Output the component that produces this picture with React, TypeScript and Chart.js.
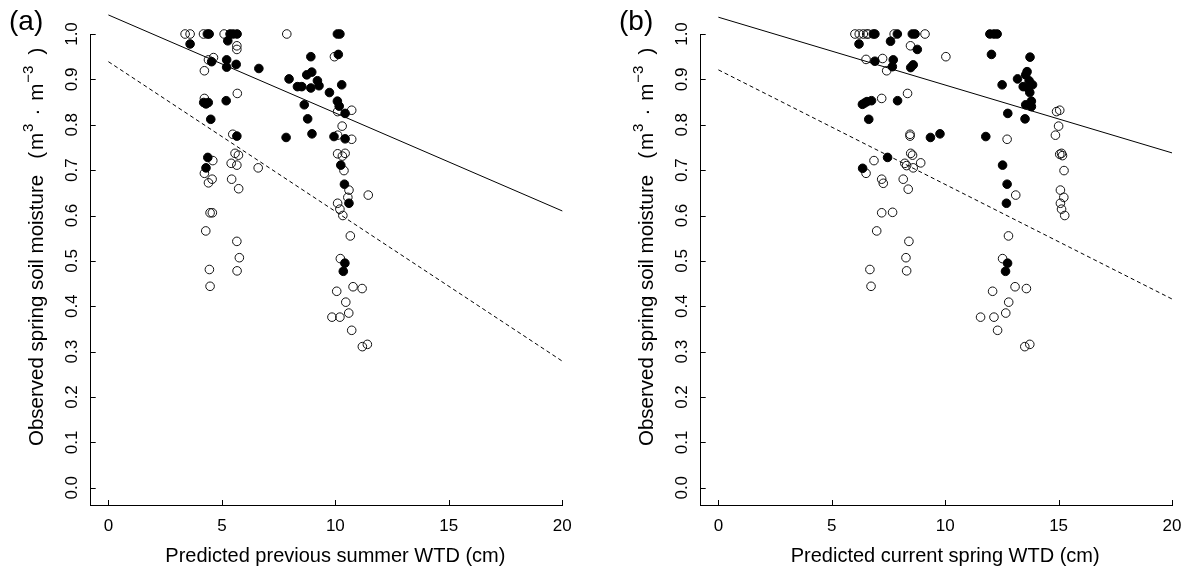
import React, { useEffect, useRef } from "react";
import { Chart, registerables } from "chart.js";

Chart.register(...registerables);

const FONT = "'Liberation Sans', Arial, sans-serif";

// Tick values
const xTickValues = [0, 5, 10, 15, 20];
const yTickValues = [0, 0.1, 0.2, 0.3, 0.4, 0.5, 0.6, 0.7, 0.8, 0.9, 1.0];

// Axis titles
const xTitleA = "Predicted previous summer WTD (cm)";
const xTitleB = "Predicted current spring WTD (cm)";
const yTitleMain = "Observed spring soil moisture";

// Regression lines (x endpoints and y at those endpoints)
const lineX = [0, 20];
const aSolidY = [1.042, 0.61];
const aDashedY = [0.939, 0.279];
const bSolidY = [1.037, 0.738];
const bDashedY = [0.921, 0.416];

// Panel (a): filled points
const aFilledX = [4.36, 4.44, 5.36, 5.5, 5.67, 10.09, 10.2, 3.6, 5.26, 4.55, 5.21, 5.21, 5.63, 6.63, 7.96, 8.33, 4.2, 4.3, 4.4, 5.19, 4.51, 5.66, 7.83, 4.38, 4.3, 10.13, 8.92, 8.96, 8.74, 9.21, 9.28, 8.52, 8.92, 10.28, 9.74, 10.09, 8.63, 10.17, 10.43, 8.78, 8.97, 9.94, 10.43, 10.24, 10.4, 10.6, 10.42, 10.35];
const aFilledY = [1.0, 1.0, 1.0, 1.0, 1.0, 1.0, 1.0, 0.978, 0.985, 0.939, 0.943, 0.927, 0.933, 0.924, 0.901, 0.884, 0.849, 0.846, 0.849, 0.853, 0.812, 0.775, 0.772, 0.728, 0.705, 0.955, 0.95, 0.916, 0.91, 0.897, 0.886, 0.884, 0.881, 0.888, 0.871, 0.852, 0.844, 0.841, 0.825, 0.813, 0.78, 0.774, 0.769, 0.711, 0.669, 0.627, 0.495, 0.477];

// Panel (a): open points
const aOpenX = [3.38, 3.6, 4.19, 5.1, 7.86, 5.66, 5.66, 4.63, 4.41, 4.23, 5.68, 4.23, 5.48, 5.58, 5.73, 4.6, 5.41, 5.66, 6.6, 4.23, 4.57, 4.41, 5.43, 5.74, 4.48, 4.58, 4.29, 5.66, 5.77, 4.45, 5.67, 4.48, 9.96, 10.1, 10.72, 10.3, 10.1, 10.72, 10.1, 10.43, 10.31, 10.38, 10.6, 11.45, 10.55, 10.1, 10.2, 10.33, 10.66, 10.22, 10.78, 11.18, 10.06, 10.46, 10.59, 9.85, 10.2, 10.72, 11.41, 11.19];
const aOpenY = [1.0, 1.0, 1.0, 1.0, 1.0, 0.974, 0.966, 0.948, 0.943, 0.919, 0.869, 0.858, 0.779, 0.737, 0.733, 0.721, 0.715, 0.711, 0.705, 0.693, 0.68, 0.672, 0.68, 0.659, 0.606, 0.606, 0.566, 0.543, 0.507, 0.481, 0.478, 0.444, 0.95, 0.829, 0.832, 0.797, 0.777, 0.768, 0.736, 0.737, 0.731, 0.699, 0.656, 0.645, 0.64, 0.627, 0.614, 0.6, 0.555, 0.505, 0.443, 0.439, 0.433, 0.409, 0.385, 0.376, 0.376, 0.347, 0.316, 0.311];

// Panel (b): filled points
const bFilledX = [6.83, 6.9, 7.89, 8.55, 8.67, 11.97, 12.15, 12.29, 6.2, 7.59, 8.77, 6.9, 7.71, 7.67, 8.48, 8.59, 6.35, 6.45, 6.55, 6.75, 7.9, 6.63, 9.35, 7.46, 6.36, 12.04, 13.74, 13.61, 13.55, 13.19, 13.7, 13.85, 13.44, 13.66, 13.73, 12.51, 13.8, 13.55, 13.8, 12.76, 13.52, 9.77, 11.79, 12.53, 12.73, 12.7, 12.75, 12.66];
const bFilledY = [1.0, 1.0, 1.0, 1.0, 1.0, 1.0, 1.0, 1.0, 0.978, 0.984, 0.966, 0.94, 0.943, 0.928, 0.926, 0.932, 0.845, 0.848, 0.851, 0.853, 0.853, 0.812, 0.772, 0.728, 0.704, 0.955, 0.949, 0.917, 0.91, 0.901, 0.897, 0.888, 0.884, 0.88, 0.871, 0.888, 0.852, 0.844, 0.84, 0.825, 0.813, 0.78, 0.774, 0.711, 0.669, 0.627, 0.495, 0.477];

// Panel (b): open points
const bOpenX = [6.02, 6.21, 6.39, 6.54, 6.61, 7.75, 9.11, 8.47, 6.51, 7.24, 7.42, 8.34, 7.2, 8.45, 8.45, 8.48, 8.56, 6.86, 8.22, 8.3, 8.59, 8.92, 6.51, 7.2, 7.27, 8.15, 8.37, 7.2, 7.68, 6.98, 8.4, 8.27, 6.68, 8.3, 6.73, 10.03, 14.91, 15.05, 15.0, 14.86, 12.73, 15.05, 15.17, 15.13, 15.24, 13.11, 15.08, 15.23, 15.08, 15.13, 15.27, 12.79, 12.53, 13.08, 13.58, 12.09, 12.8, 12.67, 11.56, 12.15, 12.31, 13.51, 13.73];
const bOpenY = [1.0, 1.0, 1.0, 1.0, 1.0, 1.0, 1.0, 0.974, 0.944, 0.946, 0.919, 0.869, 0.858, 0.779, 0.775, 0.737, 0.733, 0.721, 0.715, 0.71, 0.705, 0.716, 0.693, 0.68, 0.671, 0.68, 0.658, 0.606, 0.607, 0.566, 0.543, 0.507, 0.481, 0.478, 0.444, 0.95, 0.829, 0.832, 0.797, 0.777, 0.768, 0.735, 0.732, 0.737, 0.699, 0.645, 0.656, 0.64, 0.627, 0.614, 0.6, 0.555, 0.505, 0.443, 0.439, 0.433, 0.409, 0.385, 0.376, 0.376, 0.347, 0.311, 0.316];

const toPts = (xs: number[], ys: number[]) => xs.map((x, i) => ({ x, y: ys[i] }));

type PanelSpec = {
  label: string;
  xTitle: string;
  filledX: number[];
  filledY: number[];
  openX: number[];
  openY: number[];
  solidY: number[];
  dashedY: number[];
};

const decorPlugin = (spec: PanelSpec) => ({
  id: "decor",
  afterDraw(chart: any) {
    const ctx = chart.ctx as CanvasRenderingContext2D;
    const xs = chart.scales.x;
    const ys = chart.scales.y;
    const area = chart.chartArea;
    ctx.save();
    ctx.strokeStyle = "#000";
    ctx.lineWidth = 1;
    // inward tick marks
    ctx.beginPath();
    xTickValues.forEach((v) => {
      const px = Math.round(xs.getPixelForValue(v)) + 0.5;
      ctx.moveTo(px, area.bottom);
      ctx.lineTo(px, area.bottom - 5);
    });
    yTickValues.forEach((v) => {
      const py = Math.round(ys.getPixelForValue(v)) + 0.5;
      ctx.moveTo(area.left, py);
      ctx.lineTo(area.left + 5, py);
    });
    ctx.stroke();

    ctx.fillStyle = "#000";
    // panel label
    ctx.font = `28px ${FONT}`;
    ctx.textAlign = "left";
    ctx.textBaseline = "middle";
    ctx.fillText(spec.label, 9, 22);

    // x title
    ctx.font = `20px ${FONT}`;
    ctx.textAlign = "center";
    ctx.textBaseline = "alphabetic";
    ctx.fillText(spec.xTitle, xs.getPixelForValue(10), 562);

    // y title (rotated, with superscripts)
    ctx.save();
    ctx.translate(37, 446);
    ctx.rotate(-Math.PI / 2);
    ctx.textAlign = "left";
    ctx.textBaseline = "middle";
    const big = `20.5px ${FONT}`;
    const small = `15px ${FONT}`;
    let u = 0;
    const put = (t: string, font: string, dy: number, after = 0) => {
      ctx.font = font;
      ctx.fillText(t, u, dy);
      u += ctx.measureText(t).width + after;
    };
    put(yTitleMain, big, 0, 16);
    put("(", big, 0, 2);
    put("m", big, 0, 1);
    put("3", small, -8, 8);
    put("\u00B7", big, 0, 8);
    put("m", big, 0, 1);
    put("\u22123", small, -8, 11);
    put(")", big, 0, 0);
    ctx.restore();
    ctx.restore();
  },
});

function makeConfig(spec: PanelSpec, padRight: number): any {
  return {
    type: "scatter",
    data: {
      datasets: [
        {
          data: toPts(spec.filledX, spec.filledY),
          pointRadius: 4.3,
          pointBackgroundColor: "#000",
          pointBorderColor: "#000",
          pointBorderWidth: 1,
          clip: false,
        },
        {
          data: toPts(spec.openX, spec.openY),
          pointRadius: 4.3,
          pointBackgroundColor: "rgba(0,0,0,0)",
          pointBorderColor: "#111",
          pointBorderWidth: 1,
          clip: false,
        },
        {
          data: toPts(lineX, spec.solidY),
          showLine: true,
          pointRadius: 0,
          borderColor: "#000",
          borderWidth: 1,
          clip: false,
        },
        {
          data: toPts(lineX, spec.dashedY),
          showLine: true,
          pointRadius: 0,
          borderColor: "#000",
          borderWidth: 1,
          borderDash: [4, 3],
          clip: false,
        },
      ],
    },
    options: {
      animation: false,
      responsive: false,
      devicePixelRatio: 1,
      events: [],
      layout: { padding: { left: 0, top: 34, right: padRight, bottom: 0 } },
      plugins: { legend: { display: false }, tooltip: { enabled: false } },
      scales: {
        x: {
          type: "linear",
          min: -0.78,
          max: 20,
          afterBuildTicks: (s: any) => {
            s.ticks = xTickValues.map((v) => ({ value: v }));
          },
          afterFit: (s: any) => {
            s.height = 65;
          },
          grid: { display: false, drawTicks: false },
          border: { display: true, color: "#000", width: 1 },
          ticks: {
            color: "#000",
            font: { family: FONT, size: 17 },
            padding: 11,
            maxRotation: 0,
            autoSkip: false,
          },
        },
        y: {
          type: "linear",
          min: -0.038,
          max: 1.0,
          afterBuildTicks: (s: any) => {
            s.ticks = yTickValues.map((v) => ({ value: v }));
          },
          afterFit: (s: any) => {
            s.width = 90.7;
          },
          grid: { display: false, drawTicks: false },
          border: { display: true, color: "#000", width: 1 },
          ticks: {
            color: "#000",
            font: { family: FONT, size: 17 },
            padding: 7,
            minRotation: 90,
            maxRotation: 90,
            crossAlign: "center",
            autoSkip: false,
            callback: (v: any) => Number(v).toFixed(1),
          },
        },
      },
    },
    plugins: [decorPlugin(spec)],
  };
}

const panelA: PanelSpec = {
  label: "(a)",
  xTitle: xTitleA,
  filledX: aFilledX,
  filledY: aFilledY,
  openX: aOpenX,
  openY: aOpenY,
  solidY: aSolidY,
  dashedY: aDashedY,
};

const panelB: PanelSpec = {
  label: "(b)",
  xTitle: xTitleB,
  filledX: bFilledX,
  filledY: bFilledY,
  openX: bOpenX,
  openY: bOpenY,
  solidY: bSolidY,
  dashedY: bDashedY,
};

function Panel({ spec, left, width, padRight }: { spec: PanelSpec; left: number; width: number; padRight: number }) {
  const ref = useRef<HTMLCanvasElement | null>(null);
  useEffect(() => {
    if (!ref.current) return;
    const chart = new Chart(ref.current, makeConfig(spec, padRight));
    return () => chart.destroy();
  }, [spec, padRight]);
  return (
    <canvas
      ref={ref}
      width={width}
      height={570}
      style={{ position: "absolute", left, top: 0, width, height: 570 }}
    />
  );
}

export default function App() {
  return (
    <div style={{ position: "fixed", left: 0, top: 0, width: 1197, height: 570, background: "#fff" }}>
      <Panel spec={panelA} left={0} width={610} padRight={47.7} />
      <Panel spec={panelB} left={610} width={587} padRight={25} />
    </div>
  );
}
